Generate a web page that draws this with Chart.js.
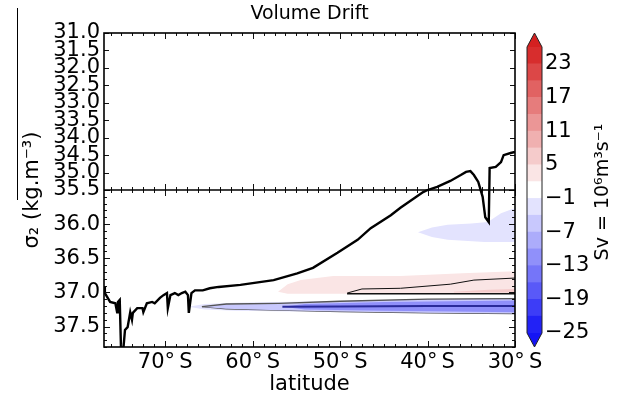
<!DOCTYPE html>
<html lang="en">
<head>
<meta charset="UTF-8">
<title>Volume Drift</title>
<script src="https://cdn.jsdelivr.net/npm/chart.js"></script>
<style>
  body { margin: 0; background: #fff; }
  #wrap { position: relative; width: 622px; height: 401px; }
  #main { position: absolute; left: 0; top: 0; }
  #cbar { position: absolute; left: 500px; top: 0; }
</style>
</head>
<body>
<div id="wrap">
  <canvas id="main" width="622" height="401"></canvas>
  <canvas id="cbar" width="122" height="401"></canvas>
</div>
<script>
// --- data (latitude in degrees, negative = south; sigma_2 in kg m^-3) ---

// bottom density (black line)
const lineLat = [-77.0, -76.9, -76.3, -75.7, -75.5, -75.4, -75.2, -75.05, -74.8, -74.6, -74.3, -74.0, -73.8, -73.7,
  -73.2, -72.6, -72.5, -72.1, -71.5, -71.2, -70.6, -70.2, -69.8, -69.7, -69.4, -68.9, -68.5, -68.1, -67.7, -67.4,
  -67.3, -67.0, -66.6, -65.7, -64.9, -63.9, -61.4, -57.6, -54.9, -53.1, -50.3, -48.0, -46.5, -44.2, -43.1, -40.5,
  -40.0, -38.9, -37.4, -36.2, -35.6, -35.1, -34.7, -34.2, -33.7, -33.4, -33.0, -32.9, -32.2, -31.6, -31.3, -30.5, -30.0];
const lineSig = [36.91, 37.01, 37.14, 37.16, 37.29, 37.14, 37.11, 37.85, 37.85, 37.55, 37.51, 37.29, 37.40, 37.30,
  37.23, 37.23, 37.29, 37.16, 37.14, 37.16, 37.08, 37.04, 37.01, 37.23, 37.04, 37.01, 37.04, 37.01, 36.99, 37.04,
  37.30, 37.01, 36.97, 36.97, 36.94, 36.92, 36.89, 36.82, 36.72, 36.64, 36.42, 36.23, 36.06, 35.87, 35.76, 35.53,
  35.50, 35.41, 35.24, 35.07, 34.98, 34.96, 35.07, 35.27, 35.60, 35.90, 35.97, 34.87, 34.84, 34.70, 34.50, 34.44, 34.41];

// negative drift patch near 36 (band -4..-1)
const negTopLat = [-41.1, -39.5, -37.7, -35.0, -33.1, -31.6, -30.3, -30.0];
const negTopSig = [36.12, 36.05, 36.01, 35.99, 35.97, 35.84, 35.78, 35.77];
const negBotLat = [-41.1, -39.5, -37.7, -33.5, -30.0];
const negBotSig = [36.12, 36.19, 36.23, 36.26, 36.26];

// positive drift patch (band 2..5)
const posTopLat = [-57.1, -56.0, -54.5, -50.8, -43.1, -36.0, -30.0];
const posTopSig = [36.99, 36.88, 36.82, 36.76, 36.76, 36.72, 36.69];
const posBotLat = [-57.1, -56.0, -30.0];
const posBotSig = [36.99, 37.02, 37.02];

// positive patch, band 5..8
const pos2TopLat = [-37.0, -33.0, -30.0];
const pos2TopSig = [36.99, 36.96, 36.95];
const pos2BotLat = [-37.0, -30.0];
const pos2BotSig = [37.0, 37.0];

// thin contour inside the positive patch
const cPosTopLat = [-49.2, -47.5, -43.1, -37.4, -34.7, -30.0];
const cPosTopSig = [37.01, 36.95, 36.94, 36.88, 36.82, 36.79];
const cPosBotLat = [-49.2, -30.0];
const cPosBotSig = [37.02, 37.02];

// negative band near 37.2: halo (-4..-1), outer (-7..-4), inner (-13..-10), core
const haloTopLat = [-67.3, -65.5, -62.0, -30.0];
const haloTopSig = [37.21, 37.17, 37.15, 37.08];
const haloBotLat = [-67.3, -65.5, -62.0, -30.0];
const haloBotSig = [37.21, 37.25, 37.27, 37.32];
const outTopLat = [-65.8, -63.0, -57.0, -50.0, -40.0, -30.0];
const outTopSig = [37.21, 37.17, 37.16, 37.13, 37.10, 37.09];
const outBotLat = [-65.8, -63.0, -57.0, -50.0, -40.0, -30.0];
const outBotSig = [37.21, 37.24, 37.26, 37.28, 37.30, 37.31];
const inTopLat = [-56.6, -54.0, -45.0, -30.0];
const inTopSig = [37.21, 37.17, 37.14, 37.12];
const inBotLat = [-56.6, -54.0, -45.0, -30.0];
const inBotSig = [37.21, 37.25, 37.27, 37.29];
const coreLat = [-56.6, -50.0, -40.0, -30.0];
const coreSig = [37.21, 37.205, 37.2, 37.2];

// axes
const xTickVals = [-70, -60, -50, -40, -30];
const xTickLabels = ['70°\u2009S', '60°\u2009S', '50°\u2009S', '40°\u2009S', '30°\u2009S'];
const yTickVals = [31.0, 31.5, 32.0, 32.5, 33.0, 33.5, 34.0, 34.5, 35.0, 35.5, 36.0, 36.5, 37.0, 37.5];
const yTickLabels = ['31.0', '31.5', '32.0', '32.5', '33.0', '33.5', '34.0', '34.5', '35.0', '35.5', '36.0', '36.5', '37.0', '37.5'];

// colour bar
const cbLevels = [-25, -22, -19, -16, -13, -10, -7, -4, -1, 2, 5, 8, 11, 14, 17, 20, 23, 26];
const cbTicks = [-25, -19, -13, -7, -1, 5, 11, 17, 23];

// split axis: 31.0-35.5 uses the upper half, 35.5-37.8 the lower half
const SPLIT = 35.5;
function T(s) {
  return s <= SPLIT ? (s - 31.0) / 4.5 : 1 + (s - SPLIT) / 2.3;
}

function colorFor(v) {
  const t = (v - cbLevels[0]) / (cbLevels[cbLevels.length - 1] - cbLevels[0]);
  const red = [212, 32, 32], blue = [20, 20, 245];
  let c, s;
  if (t < 0.5) { s = 1 - 2 * t; c = blue; } else { s = 2 * t - 1; c = red; }
  const m = k => Math.round(255 + (c[k] - 255) * s);
  return 'rgb(' + m(0) + ',' + m(1) + ',' + m(2) + ')';
}

function pts(lat, sig) {
  return lat.map((x, i) => ({ x: x, y: T(sig[i]) }));
}

// two datasets, the first filled down to the second
function patch(tLat, tSig, bLat, bSig, fillColor, edge, edgeWidth, order) {
  return [
    { data: pts(tLat, tSig), fill: '+1', backgroundColor: fillColor, borderColor: edge, borderWidth: edgeWidth, order: order },
    { data: pts(bLat, bSig), fill: false, borderColor: edge, borderWidth: edgeWidth, order: order }
  ];
}

const datasets = [
  { data: pts(lineLat, lineSig), borderColor: '#000', borderWidth: 2.4, fill: false, order: 0 },
  { data: pts(cPosTopLat, cPosTopSig), borderColor: '#111', borderWidth: 1, fill: false, order: 1 },
  { data: pts(cPosBotLat, cPosBotSig), borderColor: '#111', borderWidth: 1.3, fill: false, order: 1 },
  { data: pts(coreLat, coreSig), borderColor: '#2a2a9a', borderWidth: 2, fill: false, order: 2 },
  ...patch(inTopLat, inTopSig, inBotLat, inBotSig, colorFor(-11.5), 'rgba(0,0,0,0)', 0, 3),
  ...patch(outTopLat, outTopSig, outBotLat, outBotSig, colorFor(-5.5), '#555', 1.3, 4),
  ...patch(haloTopLat, haloTopSig, haloBotLat, haloBotSig, colorFor(-2.5), 'rgba(0,0,0,0)', 0, 5),
  ...patch(pos2TopLat, pos2TopSig, pos2BotLat, pos2BotSig, colorFor(6.5), 'rgba(0,0,0,0)', 0, 5),
  ...patch(posTopLat, posTopSig, posBotLat, posBotSig, colorFor(3.5), 'rgba(0,0,0,0)', 0, 6),
  ...patch(negTopLat, negTopSig, negBotLat, negBotSig, colorFor(-2.5), 'rgba(0,0,0,0)', 0, 6)
];
datasets.forEach(d => { d.pointRadius = 0; d.tension = 0; });

const font = { family: 'DejaVu Sans', size: 21, weight: 'normal' };

// frame, broken-axis line and inward ticks
const frame = {
  id: 'frame',
  afterDatasetsDraw(chart) {
    const { ctx, chartArea: a, scales: { x, y } } = chart;
    const yb = y.getPixelForValue(T(SPLIT));
    ctx.save();
    ctx.strokeStyle = '#111';
    ctx.lineWidth = 1;
    ctx.beginPath();
    for (let v = -30; v >= -77; v -= 1.25) {
      const px = Math.round(x.getPixelForValue(v)) + 0.5;
      const len = xTickVals.includes(v) ? 6 : 3;
      ctx.moveTo(px, a.bottom); ctx.lineTo(px, a.bottom - len);
      ctx.moveTo(px, a.top); ctx.lineTo(px, a.top + len);
      ctx.moveTo(px, yb - len); ctx.lineTo(px, yb + len);
    }
    for (let k = 0; k <= 9; k++) {
      const py = Math.round(y.getPixelForValue(T(31 + k * 0.5))) + 0.5;
      ctx.moveTo(a.left, py); ctx.lineTo(a.left + 5, py);
      ctx.moveTo(a.right, py); ctx.lineTo(a.right - 5, py);
    }
    for (let k = 0; k <= 23; k++) {
      const s = SPLIT + k * 0.1;
      const py = Math.round(y.getPixelForValue(T(s))) + 0.5;
      const len = k % 5 === 0 ? 6 : 3;
      ctx.moveTo(a.left, py); ctx.lineTo(a.left + len, py);
      ctx.moveTo(a.right, py); ctx.lineTo(a.right - len, py);
    }
    ctx.stroke();
    ctx.lineWidth = 1.6;
    ctx.strokeStyle = '#000';
    ctx.strokeRect(a.left, a.top, a.width, a.height);
    ctx.beginPath();
    ctx.moveTo(a.left, yb); ctx.lineTo(a.right, yb);
    ctx.stroke();
    // stray rule left of the axis label
    ctx.lineWidth = 1;
    ctx.beginPath();
    ctx.moveTo(17.5, 8); ctx.lineTo(17.5, 200);
    ctx.stroke();
    ctx.restore();
  }
};

new Chart(document.getElementById('main'), {
  type: 'line',
  data: { datasets: datasets },
  options: {
    responsive: false,
    animation: false,
    layout: { padding: { left: 0, right: 107, top: 0, bottom: 0 } },
    plugins: {
      legend: { display: false },
      tooltip: { enabled: false },
      title: {
        display: true, fullSize: false, text: 'Volume Drift', color: '#000',
        font: { family: 'DejaVu Sans', size: 19, weight: 'normal' },
        padding: { top: 3, bottom: 7.2 }
      }
    },
    scales: {
      x: {
        type: 'linear', min: -77, max: -30,
        grid: { display: false, drawTicks: false },
        border: { display: false },
        afterBuildTicks: s => { s.ticks = xTickVals.map(v => ({ value: v })); },
        ticks: { callback: (v, i) => xTickLabels[i], color: '#000', font: font, padding: 3, maxRotation: 0, autoSkip: false },
        title: { display: true, text: 'latitude', color: '#000', font: font, padding: { top: 0, bottom: 4 } },
        afterFit: s => { s.height = 54; }
      },
      y: {
        type: 'linear', min: 0, max: 2, reverse: true,
        grid: { display: false, drawTicks: false },
        border: { display: false },
        afterBuildTicks: s => { s.ticks = yTickVals.map(v => ({ value: T(v) })); },
        ticks: { callback: (v, i) => yTickLabels[i], color: '#000', font: font, padding: 4, autoSkip: false },
        title: { display: true, text: 'σ₂ (kg.m⁻³)', color: '#000', font: font, padding: { top: 20 } },
        afterFit: s => { s.width = 104; }
      }
    }
  },
  plugins: [frame]
});

// --- colour bar ---
const cbExtras = {
  id: 'cbExtras',
  afterDatasetsDraw(chart) {
    const { ctx, chartArea: a } = chart;
    const cx = (a.left + a.right) / 2;
    ctx.save();
    ctx.fillStyle = colorFor(cbLevels[cbLevels.length - 1]);
    ctx.beginPath();
    ctx.moveTo(a.left, a.top); ctx.lineTo(cx, a.top - 14); ctx.lineTo(a.right, a.top); ctx.closePath();
    ctx.fill();
    ctx.fillStyle = colorFor(cbLevels[0]);
    ctx.beginPath();
    ctx.moveTo(a.left, a.bottom); ctx.lineTo(cx, a.bottom + 14); ctx.lineTo(a.right, a.bottom); ctx.closePath();
    ctx.fill();
    ctx.strokeStyle = '#222';
    ctx.lineWidth = 1;
    ctx.beginPath();
    ctx.moveTo(a.left, a.top); ctx.lineTo(cx, a.top - 14); ctx.lineTo(a.right, a.top);
    ctx.lineTo(a.right, a.bottom); ctx.lineTo(cx, a.bottom + 14); ctx.lineTo(a.left, a.bottom);
    ctx.closePath();
    ctx.stroke();
    // axis label, reading bottom to top
    ctx.translate(103, (a.top + a.bottom) / 2 + 2);
    ctx.rotate(-Math.PI / 2);
    ctx.fillStyle = '#000';
    ctx.font = '19px "DejaVu Sans"';
    ctx.textAlign = 'center';
    ctx.textBaseline = 'middle';
    ctx.fillText('Sv = 10⁶m³s⁻¹', 0, 0);
    ctx.restore();
  }
};

const cbDatasets = cbLevels.slice(0, -1).map((lo, i) => ({
  data: [[lo, cbLevels[i + 1]]],
  backgroundColor: colorFor((lo + cbLevels[i + 1]) / 2),
  borderWidth: 0,
  barPercentage: 1,
  categoryPercentage: 1
}));

new Chart(document.getElementById('cbar'), {
  type: 'bar',
  data: { labels: [''], datasets: cbDatasets },
  options: {
    responsive: false,
    animation: false,
    layout: { padding: { left: 27, right: 0, top: 47, bottom: 68 } },
    plugins: { legend: { display: false }, tooltip: { enabled: false } },
    scales: {
      x: { display: false, stacked: true },
      y: {
        position: 'right', min: -25, max: 26, stacked: false,
        grid: { display: false, drawTicks: false },
        border: { display: false },
        afterBuildTicks: s => { s.ticks = cbTicks.map(v => ({ value: v })); },
        ticks: { callback: v => String(v).replace('-', '\u2212'), color: '#000', font: font, padding: 3, autoSkip: false },
        afterFit: s => { s.width = 80; }
      }
    }
  },
  plugins: [cbExtras]
});
</script>
</body>
</html>
